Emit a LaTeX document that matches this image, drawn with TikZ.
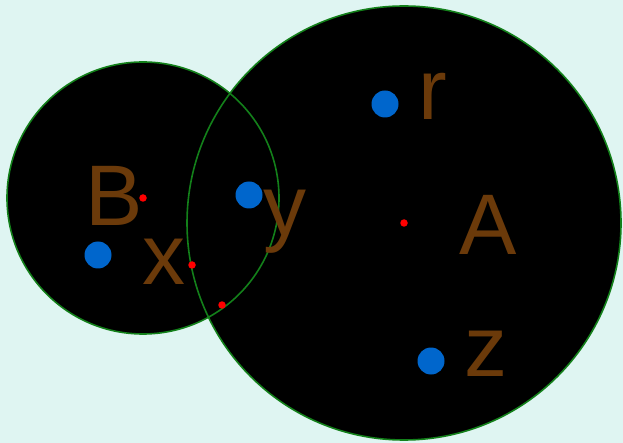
\documentclass[tikz,border=0pt]{standalone}
\usepackage{fontspec}
\setmainfont{Liberation Sans}
\definecolor{bgc}{HTML}{DFF5F2}
\definecolor{edgec}{HTML}{13801A}
\definecolor{dotblue}{HTML}{0066CC}
\definecolor{labc}{HTML}{6B3A0A}
\begin{document}
\begin{tikzpicture}[x=1pt,y=-1pt,
  disc/.style={fill=black},
  rim/.style={draw=edgec,line width=1.6pt},
  bdot/.style={circle,fill=dotblue,minimum size=27pt,inner sep=0pt},
  rdot/.style={circle,fill=red,minimum size=7.5pt,inner sep=0pt},
  lab/.style={text=labc,font=\fontsize{86}{86}\selectfont,anchor=base,inner sep=0pt}]
\fill[bgc] (0,0) rectangle (623,443);
\useasboundingbox (0,0) rectangle (623,443);
\fill[disc] (143,198) circle[radius=136];
\fill[disc] (404,223) circle[radius=217];
\draw[rim] (143,198) circle[radius=136];
\draw[rim] (404,223) circle[radius=217];
\node[bdot] (r) at (385,104) {};
\node[bdot] (y) at (249,195) {};
\node[bdot] (x) at (98,255) {};
\node[bdot] (z) at (431,361) {};
\node[rdot] (cB) at (143,198) {};
\node[rdot] (cA) at (404,223) {};
\node[rdot] (p1) at (192,265) {};
\node[rdot] (p2) at (222,305) {};
\node[lab] (lB) at (114,226) {B};
\node[lab] (lx) at (164,285) {x};
\node[lab] (ly) at (285,236) {y};
\node[lab] (lr) at (433,120) {r};
\node[lab] (lA) at (488,255) {A};
\node[lab] (lz) at (486,376) {z};
\end{tikzpicture}
\end{document}
